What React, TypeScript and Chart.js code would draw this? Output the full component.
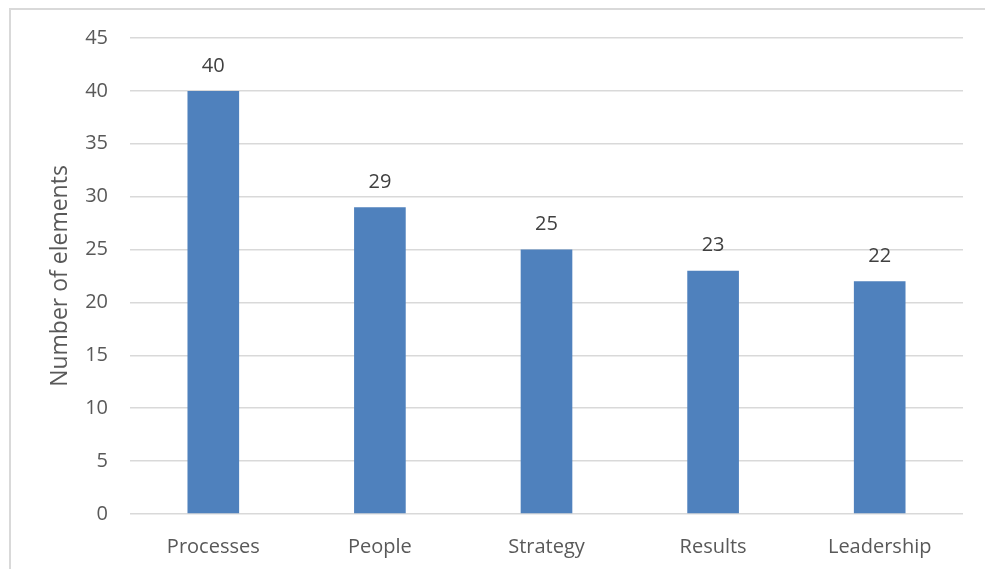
import React, { useEffect, useRef } from "react";
import { Chart, registerables } from "chart.js";

Chart.register(...registerables);

const categories = ["Processes", "People", "Strategy", "Results", "Leadership"];
const values = [40, 29, 25, 23, 22];
const yTitle = "Number of elements";
const yMin = 0;
const yMax = 45;
const yStep = 5;

const FONT = "'Open Sans', sans-serif";

const valueLabels = {
  id: "valueLabels",
  afterDatasetsDraw(chart: any) {
    const ctx = chart.ctx;
    const meta = chart.getDatasetMeta(0);
    ctx.save();
    ctx.font = `20px ${FONT}`;
    ctx.fillStyle = "#404040";
    ctx.textAlign = "center";
    ctx.textBaseline = "middle";
    meta.data.forEach((el: any, i: number) => {
      ctx.fillText(String(chart.data.datasets[0].data[i]), el.x, el.y - 25);
    });
    ctx.restore();
  },
};

export default function App() {
  const ref = useRef<HTMLCanvasElement>(null);
  useEffect(() => {
    if (!ref.current) return;
    const chart = new Chart(ref.current, {
      type: "bar",
      data: {
        labels: categories,
        datasets: [
          {
            data: values,
            backgroundColor: "#4F81BD",
            borderWidth: 0,
            categoryPercentage: 1,
            barPercentage: 0.31,
          },
        ],
      },
      options: {
        responsive: false,
        animation: false,
        layout: { padding: { top: 38, right: 22, left: 0, bottom: 0 } },
        plugins: { legend: { display: false }, tooltip: { enabled: false } },
        scales: {
          x: {
            grid: { display: false },
            border: { display: false },
            ticks: { color: "#595959", font: { family: FONT, size: 20 }, padding: 13 },
            afterFit(scale: any) {
              scale.height = 55;
            },
          },
          y: {
            min: yMin,
            max: yMax,
            ticks: {
              stepSize: yStep,
              color: "#595959",
              font: { family: FONT, size: 20 },
              padding: 22,
            },
            grid: { color: "#d9d9d9", lineWidth: 1.5, drawTicks: false },
            border: { display: false },
            title: {
              display: true,
              text: yTitle,
              color: "#595959",
              font: { family: FONT, size: 23 },
              padding: { top: 47, bottom: 0 },
            },
            afterFit(scale: any) {
              scale.width = 130;
            },
          },
        },
      },
      plugins: [valueLabels],
    });
    return () => chart.destroy();
  }, []);
  return (
    <div>
      <canvas
        ref={ref}
        width={985}
        height={569}
        style={{ position: "fixed", left: 0, top: 0, width: 985, height: 569 }}
      />
      <div
        style={{
          position: "fixed",
          left: 9,
          top: 8,
          width: 1200,
          height: 800,
          borderLeft: "2px solid #d9d9d9",
          borderTop: "2px solid #d9d9d9",
          pointerEvents: "none",
        }}
      />
    </div>
  );
}
